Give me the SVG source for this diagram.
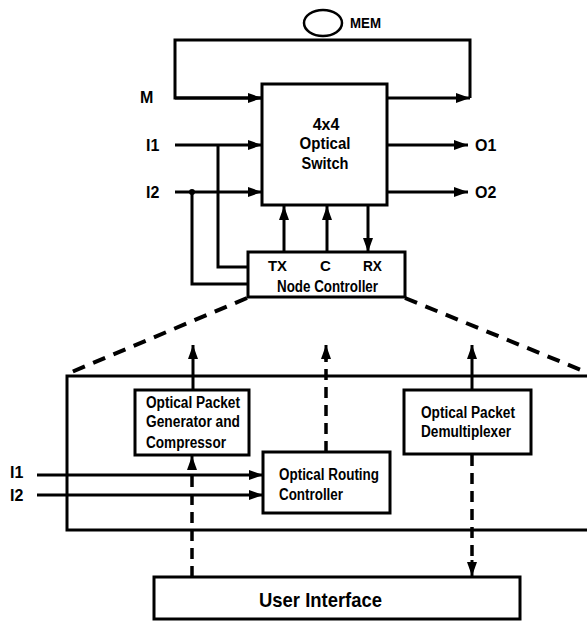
<svg xmlns="http://www.w3.org/2000/svg" width="587" height="622" viewBox="0 0 587 622">
<style>
.box{fill:#fff;stroke:#000;stroke-width:3}
.frame{fill:none;stroke:#000;stroke-width:3}
.ln{fill:none;stroke:#000;stroke-width:3}
.dl{fill:none;stroke:#000;stroke-width:4;stroke-dasharray:13 9}
.dv{fill:none;stroke:#000;stroke-width:3.5;stroke-dasharray:11 7}
text{font-family:"Liberation Sans",Arial,sans-serif;font-weight:bold;fill:#000}
.t16{font-size:16px}
.t15{font-size:15px}
.mid{text-anchor:middle}
</style>
<defs>
<marker id="ah" viewBox="0 0 14 10" refX="14" refY="5" markerWidth="14" markerHeight="10" markerUnits="userSpaceOnUse" orient="auto">
<path d="M0,0 L14,5 L0,10 Z" fill="#000"/>
</marker>
</defs>
<g id="node-controller-detail">
<rect class="frame" x="67" y="376" width="525" height="154"/>
</g>
<g id="connectors">
<polyline class="ln" points="262,98 175,98 175,40 470,40 470,98"/>
<line class="ln" x1="175" y1="98" x2="262" y2="98" marker-end="url(#ah)"/>
<line class="ln" x1="387" y1="98" x2="470" y2="98" marker-end="url(#ah)"/>
<line class="ln" x1="175" y1="145" x2="262" y2="145" marker-end="url(#ah)"/>
<line class="ln" x1="175" y1="192" x2="262" y2="192" marker-end="url(#ah)"/>
<polyline class="ln" points="218,145 218,267 248,267"/>
<polyline class="ln" points="192,192 192,284 248,284"/>
<circle cx="192" cy="192" r="3" fill="#000"/>
<line class="ln" x1="387" y1="145" x2="468" y2="145" marker-end="url(#ah)"/>
<line class="ln" x1="387" y1="192" x2="468" y2="192" marker-end="url(#ah)"/>
<line class="ln" x1="284" y1="252" x2="284" y2="206" marker-end="url(#ah)"/>
<line class="ln" x1="327" y1="252" x2="327" y2="206" marker-end="url(#ah)"/>
<line class="ln" x1="368" y1="206" x2="368" y2="252" marker-end="url(#ah)"/>
<line class="dl" x1="247" y1="298" x2="67" y2="374"/>
<line class="dl" x1="405" y1="298" x2="586" y2="372"/>
<line class="ln" x1="193" y1="390" x2="193" y2="345" marker-end="url(#ah)"/>
<line class="ln" x1="472" y1="390" x2="472" y2="345" marker-end="url(#ah)"/>
<line class="dv" x1="326" y1="452" x2="326" y2="358"/>
<line class="ln" x1="326" y1="360" x2="326" y2="345" marker-end="url(#ah)"/>
<line class="ln" x1="37" y1="475" x2="263" y2="475" marker-end="url(#ah)"/>
<line class="ln" x1="37" y1="495" x2="263" y2="495" marker-end="url(#ah)"/>
<line class="dv" x1="192" y1="577" x2="192" y2="468"/>
<line class="ln" x1="192" y1="470" x2="192" y2="456" marker-end="url(#ah)"/>
<line class="dv" x1="472" y1="455" x2="472" y2="560"/>
<line class="ln" x1="472" y1="560" x2="472" y2="576" marker-end="url(#ah)"/>
</g>
<g id="mem">
<ellipse cx="323" cy="23" rx="19" ry="13" fill="#fff" stroke="#000" stroke-width="2.5"/>
<text class="t15" x="350" y="28" textLength="31" lengthAdjust="spacingAndGlyphs">MEM</text>
</g>
<g id="labels">
<text class="t16" x="140" y="103">M</text>
<text class="t16" x="146" y="151">I1</text>
<text class="t16" x="146" y="198">I2</text>
<text class="t16" x="475" y="151">O1</text>
<text class="t16" x="475" y="198">O2</text>
<text class="t16" x="10" y="478">I1</text>
<text class="t16" x="10" y="501">I2</text>
</g>
<g id="switch">
<rect class="box" x="262" y="84" width="125" height="121"/>
<text class="t16 mid" x="326" y="130">4x4</text>
<text class="t16 mid" x="325" y="149" textLength="51" lengthAdjust="spacingAndGlyphs">Optical</text>
<text class="t16 mid" x="325" y="169" textLength="47" lengthAdjust="spacingAndGlyphs">Switch</text>
</g>
<g id="node-controller">
<rect class="box" x="248" y="252" width="157" height="45"/>
<text class="t15" x="268" y="271" textLength="19" lengthAdjust="spacingAndGlyphs">TX</text>
<text class="t15" x="320" y="271">C</text>
<text class="t15" x="363" y="271" textLength="19" lengthAdjust="spacingAndGlyphs">RX</text>
<text class="t16" x="277" y="292" textLength="101" lengthAdjust="spacingAndGlyphs">Node Controller</text>
</g>
<g id="packet-generator">
<rect class="box" x="135" y="390" width="114" height="65"/>
<text class="t16" x="146" y="408" textLength="94" lengthAdjust="spacingAndGlyphs">Optical Packet</text>
<text class="t16" x="146" y="427" textLength="94" lengthAdjust="spacingAndGlyphs">Generator and</text>
<text class="t16" x="146" y="448" textLength="80" lengthAdjust="spacingAndGlyphs">Compressor</text>
</g>
<g id="demultiplexer">
<rect class="box" x="404" y="390" width="127" height="64"/>
<text class="t16" x="421" y="418" textLength="94" lengthAdjust="spacingAndGlyphs">Optical Packet</text>
<text class="t16" x="421" y="437" textLength="90" lengthAdjust="spacingAndGlyphs">Demultiplexer</text>
</g>
<g id="routing-controller">
<rect class="box" x="263" y="452" width="127" height="61"/>
<text class="t16" x="279" y="480" textLength="100" lengthAdjust="spacingAndGlyphs">Optical Routing</text>
<text class="t16" x="279" y="500" textLength="64" lengthAdjust="spacingAndGlyphs">Controller</text>
</g>
<g id="user-interface">
<rect class="box" x="154" y="577" width="366" height="42"/>
<text x="259" y="607" font-size="21" textLength="123" lengthAdjust="spacingAndGlyphs">User Interface</text>
</g>
</svg>
